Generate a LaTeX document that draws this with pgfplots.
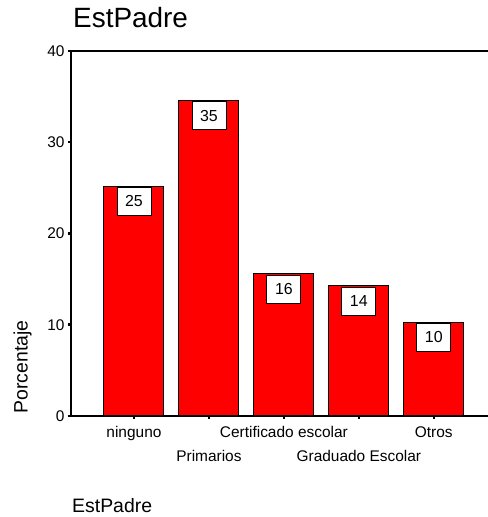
\documentclass[border=0pt]{standalone}
\usepackage{fontspec}
\setmainfont{Liberation Sans}
\usepackage{pgfplots}
\pgfplotsset{compat=1.18}
\begin{document}
\begin{tikzpicture}
\useasboundingbox (0,0) rectangle (488bp,517bp);
\begin{axis}[
  at={(71bp,101bp)}, anchor=south west,
  scale only axis, width=419bp, height=365bp,
  xmin=-0.84, xmax=4.75, ymin=0, ymax=40,
  axis x line=box, axis y line=left,
  axis line style={-, line width=1.3bp},
  /pgf/number format/assume math mode=true,
  ytick={0,10,20,30,40},
  xtick={0,2,4},
  xticklabels={ninguno,Certificado escolar,Otros},
  extra x ticks={1,3},
  extra x tick labels={Primarios,Graduado Escolar},
  extra x tick style={xticklabel style={yshift=-24bp}},
  xtick pos=bottom, ytick pos=left,
  tick align=outside, major tick length=3bp,
  tick style={black, line width=2.5bp},
  tick label style={font=\fontsize{15.5}{18}\selectfont},
  xticklabel style={yshift=-4bp},
  ylabel={Porcentaje},
  ylabel style={font=\fontsize{19.5}{23}\selectfont, at={(axis description cs:0,0.134)}, anchor=center, yshift=48.5bp},
]
\addplot[ybar, bar width=0.8, bar shift=0pt, fill=red, draw=black, line width=1bp,
  point meta=y,
  nodes near coords={\pgfmathprintnumber[fixed,precision=0]{\pgfplotspointmeta}},
  every node near coord/.append style={anchor=north, yshift=-1bp, draw=black, fill=white, line width=0.8bp,
     minimum width=34bp, minimum height=28bp, inner sep=0pt, text=black, font=\fontsize{16}{18}\selectfont}]
  coordinates {(0,25.2) (1,34.6) (2,15.6) (3,14.3) (4,10.3)};
\end{axis}
\node[anchor=base west, font=\fontsize{28}{33}\selectfont, inner sep=0pt] at (73bp,489bp) {EstPadre};
\node[anchor=base west, font=\fontsize{19.5}{23}\selectfont, inner sep=0pt] at (72bp,5bp) {EstPadre};
\end{tikzpicture}
\end{document}
